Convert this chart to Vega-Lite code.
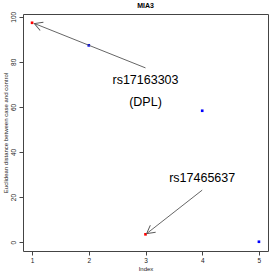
{
  "$schema": "https://vega.github.io/schema/vega-lite/v6.json",
  "autosize": {"type": "none"},
  "padding": {"left": 23, "top": 14, "right": 5, "bottom": 22},
  "width": 245,
  "height": 237,
  "background": "white",
  "config": {
    "font": "Liberation Sans",
    "view": {"stroke": "#444", "strokeWidth": 1},
    "axis": {"grid": false, "domain": false}
  },
  "title": {"text": "MIA3", "fontSize": 7, "fontWeight": "bold", "font": "Liberation Sans", "color": "#000", "offset": 2, "anchor": "middle"},
  "datasets": {
    "points": [
      {"index": 1, "distance": 97.3, "group": "red"},
      {"index": 2, "distance": 87.3, "group": "blue"},
      {"index": 3, "distance": 3.5, "group": "red"},
      {"index": 4, "distance": 58.3, "group": "blue"},
      {"index": 5, "distance": 0.2, "group": "blue"}
    ],
    "arrows": [
      {"id": 1, "x": 3.0, "y": 77.3, "x2": 1.04, "y2": 97.0},
      {"id": 2, "x": 4.0, "y": 23.1, "x2": 3.02, "y2": 3.8}
    ],
    "labels": [
      {"text": "rs17163303", "x": 3.0, "y": 72.0},
      {"text": "(DPL)", "x": 3.0, "y": 62.2},
      {"text": "rs17465637", "x": 4.0, "y": 28.4}
    ]
  },
  "layer": [
    {
      "data": {"name": "points"},
      "mark": {"type": "point", "shape": "square", "filled": true, "size": 7, "opacity": 1},
      "encoding": {
        "x": {"field": "index", "type": "quantitative", "scale": {"domain": [0.84, 5.16], "nice": false, "zero": false},
          "axis": {"values": [1, 2, 3, 4, 5], "title": "Index", "titleFontSize": 6, "titleFontWeight": "normal", "titleColor": "#222", "titlePadding": 2, "labelFontSize": 6.5, "labelColor": "#222", "tickColor": "#444", "tickSize": 4, "labelPadding": 2, "format": "d"}},
        "y": {"field": "distance", "type": "quantitative", "scale": {"domain": [-3.9, 101.2], "nice": false, "zero": false},
          "axis": {"values": [0, 20, 40, 60, 80, 100], "title": "Euclidean distance between case and control", "titleFontSize": 6, "titleFontWeight": "normal", "titleColor": "#222", "titlePadding": 2, "labelFontSize": 6.5, "labelColor": "#222", "labelAngle": -90, "labelAlign": "center", "labelBaseline": "bottom", "tickColor": "#444", "tickSize": 4, "labelPadding": 3}},
        "color": {"field": "group", "type": "nominal", "scale": {"domain": ["red", "blue"], "range": ["#ff0000", "#0000ff"]}, "legend": null}
      }
    },
    {
      "data": {"name": "arrows"},
      "mark": {"type": "rule", "color": "#555", "strokeWidth": 0.9},
      "encoding": {
        "x": {"field": "x", "type": "quantitative"},
        "y": {"field": "y", "type": "quantitative"},
        "x2": {"field": "x2"},
        "y2": {"field": "y2"}
      }
    },
    {
      "data": {"name": "arrows"},
      "transform": [{"filter": "datum.id == 1"}],
      "mark": {"type": "point", "shape": "M-1,-0.55L0,0L-1,0.55", "filled": false, "stroke": "#555", "strokeWidth": 0.9, "size": 256, "angle": 201.4, "opacity": 1},
      "encoding": {
        "x": {"field": "x2", "type": "quantitative"},
        "y": {"field": "y2", "type": "quantitative"}
      }
    },
    {
      "data": {"name": "arrows"},
      "transform": [{"filter": "datum.id == 2"}],
      "mark": {"type": "point", "shape": "M-1,-0.55L0,0L-1,0.55", "filled": false, "stroke": "#555", "strokeWidth": 0.9, "size": 256, "angle": 142.5, "opacity": 1},
      "encoding": {
        "x": {"field": "x2", "type": "quantitative"},
        "y": {"field": "y2", "type": "quantitative"}
      }
    },
    {
      "data": {"name": "labels"},
      "mark": {"type": "text", "fontSize": 12.5, "color": "#000", "align": "center", "baseline": "middle"},
      "encoding": {
        "x": {"field": "x", "type": "quantitative"},
        "y": {"field": "y", "type": "quantitative"},
        "text": {"field": "text"}
      }
    }
  ]
}
